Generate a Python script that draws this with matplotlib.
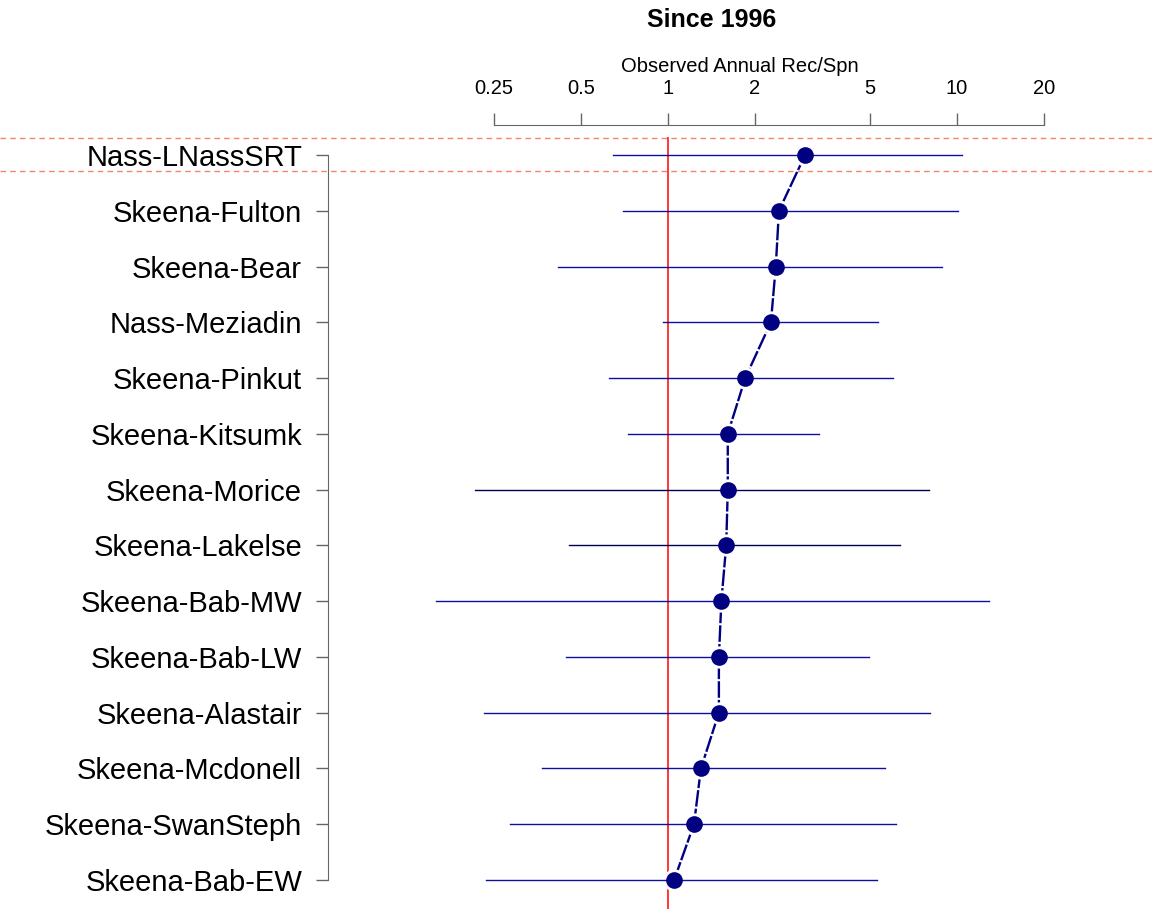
import matplotlib
matplotlib.use("Agg")
import matplotlib.pyplot as plt
from matplotlib.ticker import FixedLocator, NullLocator

plt.rcParams['font.family'] = ['Liberation Sans', 'DejaVu Sans']

# stocks, top to bottom
stocks = ["Nass-LNassSRT", "Skeena-Fulton", "Skeena-Bear", "Nass-Meziadin",
          "Skeena-Pinkut", "Skeena-Kitsumk", "Skeena-Morice", "Skeena-Lakelse",
          "Skeena-Bab-MW", "Skeena-Bab-LW", "Skeena-Alastair", "Skeena-Mcdonell",
          "Skeena-SwanSteph", "Skeena-Bab-EW"]
medians = [2.98, 2.42, 2.36, 2.27, 1.85, 1.61, 1.61, 1.59, 1.53, 1.50, 1.50, 1.30, 1.23, 1.05]
lows = [0.645, 0.70, 0.417, 0.96, 0.625, 0.727, 0.215, 0.454, 0.157, 0.444, 0.231, 0.366, 0.284, 0.235]
highs = [10.4, 10.08, 8.87, 5.33, 6.0, 3.33, 8.0, 6.35, 12.9, 4.96, 8.06, 5.63, 6.15, 5.29]
range_colors = ["#1010A0"] * 6 + ["#000050", "#000050"] + ["#1010A0"] * 6

tick_vals = [0.25, 0.5, 1, 2, 5, 10, 20]
tick_labels = ["0.25", "0.5", "1", "2", "5", "10", "20"]

W, H = 1152, 909
fig = plt.figure(figsize=(W / 100, H / 100), dpi=100)
ax = fig.add_axes([328 / W, 0, (W - 328) / W, (909 - 137) / H])

rows = list(range(len(stocks)))

# range lines
for i in rows:
    ax.plot([lows[i], highs[i]], [i, i], color=range_colors[i], lw=1.0, zorder=3)

# connecting line with gaps near the points
ax.plot(medians, rows, color="navy", lw=1.7, dashes=(7, 0.9), zorder=2)
ax.plot(medians, rows, "o", color="white", markersize=16, markeredgewidth=0, zorder=2.5)
ax.plot(medians, rows, "o", color="navy", markersize=12, markeredgewidth=0, zorder=4)

# reference line at 1
ax.axvline(1, color="red", lw=1.1, zorder=1)

# highlight dashed lines around the first row
for yy in [-0.31, 0.29]:
    ax.axhline(yy, xmin=-328 / 824, xmax=1, color="#F4846F", lw=1.0,
               dashes=(4, 3), clip_on=False, zorder=1)

ax.set_xscale("log", base=2)
x_left = 2 ** ((328 - 668) / 87)
x_right = 2 ** ((1152 - 668) / 87)
ax.set_xlim(x_left, x_right)
ax.set_ylim(13.52, -0.323)

# x axis on top
ax.xaxis.set_ticks_position("top")
ax.xaxis.set_label_position("top")
ax.xaxis.set_major_locator(FixedLocator(tick_vals))
ax.xaxis.set_minor_locator(NullLocator())
ax.set_xticklabels(tick_labels)
ax.tick_params(axis="x", direction="out", length=8.6, width=1, color="#666666",
               pad=11, labelsize=14.5)
ax.set_xlabel("Observed Annual Rec/Spn", fontsize=14.5, labelpad=5)

# y axis bracket
ax.set_yticks(rows)
ax.set_yticklabels(stocks)
ax.tick_params(axis="y", direction="out", length=8.6, width=1, color="#666666",
               pad=10, labelsize=21)

for s in ["right", "bottom"]:
    ax.spines[s].set_visible(False)
ax.spines["top"].set_position(("outward", 8.6))
ax.spines["top"].set_bounds(0.25, 20)
ax.spines["top"].set_color("#666666")
ax.spines["left"].set_bounds(0, 13)
ax.spines["left"].set_color("#666666")

fig.text(712 / W, 1 - 20 / H, "Since 1996", ha="center", va="center",
         fontsize=18, fontweight="bold")

fig.savefig("out.png", dpi=100)
